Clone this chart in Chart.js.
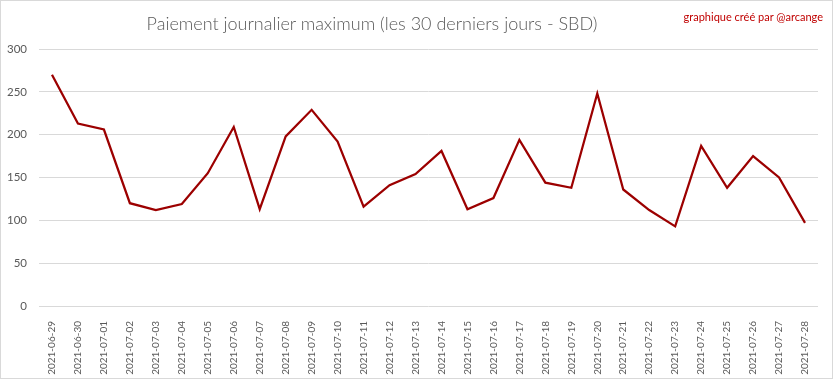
<!DOCTYPE html>
<html>
<head>
<meta charset="utf-8">
<script src="https://cdn.jsdelivr.net/npm/chart.js@4"></script>
<style>
  html, body { margin: 0; padding: 0; background: #fff; }
  #wrap { position: relative; width: 833px; height: 379px; box-sizing: border-box; border: 1px solid #d9d9d9; overflow: hidden; }
  #c { position: absolute; left: -1px; top: -1px; }
  #title { position: absolute; left: 0; width: 742px; top: 11px; text-align: center; font-family: Lato, sans-serif; font-weight: 300; font-size: 18px; color: #595959; white-space: nowrap; }
  #mark { position: absolute; right: 9px; top: 9px; font-family: Lato, sans-serif; font-size: 11px; color: #c00000; white-space: nowrap; }
</style>
</head>
<body>
<div id="wrap">
  <canvas id="c" width="833" height="379"></canvas>
  <div id="title">Paiement journalier maximum (les 30 derniers jours - SBD)</div>
  <div id="mark">graphique créé par @arcange</div>
</div>
<script>
const categories = ["2021-06-29","2021-06-30","2021-07-01","2021-07-02","2021-07-03","2021-07-04","2021-07-05","2021-07-06","2021-07-07","2021-07-08","2021-07-09","2021-07-10","2021-07-11","2021-07-12","2021-07-13","2021-07-14","2021-07-15","2021-07-16","2021-07-17","2021-07-18","2021-07-19","2021-07-20","2021-07-21","2021-07-22","2021-07-23","2021-07-24","2021-07-25","2021-07-26","2021-07-27","2021-07-28"];
const maxPayout = [270,213,206,120,112,119,155,209,113,198,229,192,116,141,154,181,113,126,194,144,138,248,136,112,93,187,138,175,150,97];
const yTicks = [0,50,100,150,200,250,300];

new Chart(document.getElementById('c'), {
  type: 'line',
  data: {
    labels: categories,
    datasets: [{
      data: maxPayout,
      borderColor: '#9c0000',
      borderWidth: 2.25,
      pointRadius: 0,
      tension: 0,
      fill: false
    }]
  },
  options: {
    responsive: false,
    animation: false,
    layout: { padding: { top: 49, right: 15, left: 0, bottom: 0 } },
    plugins: { legend: { display: false }, title: { display: false }, tooltip: { enabled: false } },
    scales: {
      x: {
        offset: true,
        grid: { display: false },
        border: { display: false },
        ticks: {
          minRotation: 90, maxRotation: 90, autoSkip: false, padding: 7,
          color: '#595959', font: { family: 'Lato', size: 10 }
        },
        afterFit: (s) => { s.height = 379 - 306; }
      },
      y: {
        min: 0, max: 300,
        afterBuildTicks: (s) => { s.ticks = yTicks.map(v => ({ value: v })); },
        grid: { color: '#d9d9d9', drawTicks: false, lineWidth: 1 },
        border: { display: false },
        ticks: { padding: 12, color: '#595959', font: { family: 'Lato', size: 11.5 } },
        afterFit: (s) => { s.width = 39; }
      }
    }
  }
});
</script>
</body>
</html>
